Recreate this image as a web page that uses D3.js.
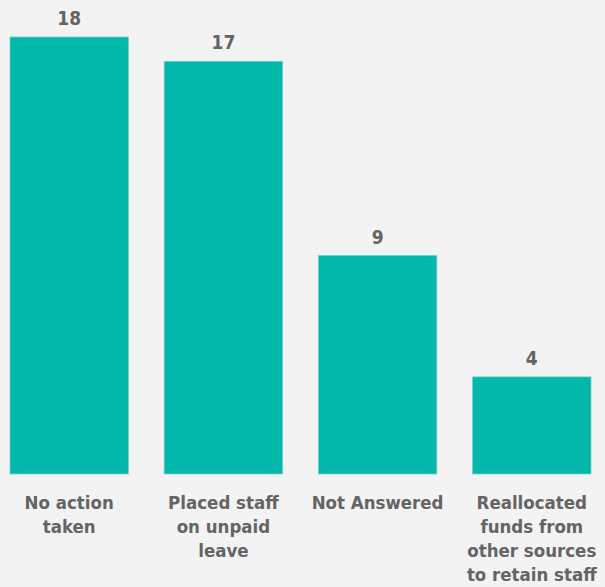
<!DOCTYPE html>
<html>
<head>
<meta charset="utf-8">
<script src="https://cdn.jsdelivr.net/npm/d3@7"></script>
<style>
    html, body { margin: 0; padding: 0; background: #f3f3f3; }
    svg { display: block; }
    text { font-family: "DejaVu Sans Condensed", "DejaVu Sans", sans-serif; font-stretch: condensed; font-weight: bold; fill: #646464; }
</style>
</head>
<body>
<div id="chart"></div>
<script>
// Responses by action taken
const categories = ['No action taken', 'Placed staff on unpaid leave', 'Not Answered', 'Reallocated funds from other sources to retain staff'];
const counts = [18, 17, 9, 4];
const tickLines = [
    ['No action', 'taken'],
    ['Placed staff', 'on unpaid', 'leave'],
    ['Not Answered'],
    ['Reallocated', 'funds from', 'other sources', 'to retain staff']
];

const width = 605;
const height = 587;
const margin = { top: 37, right: 14, bottom: 113, left: 10 };

const svg = d3.select('#chart')
    .append('svg')
    .attr('width', width)
    .attr('height', height);

const x = d3.scaleBand()
    .domain(categories)
    .range([margin.left, width - margin.right])
    .paddingInner(0.232)
    .paddingOuter(0);

const y = d3.scaleLinear()
    .domain([0, d3.max(counts)])
    .range([height - margin.bottom, margin.top]);

// Bars
svg.selectAll('.bar')
    .data(categories)
    .enter()
    .append('rect')
    .attr('class', 'bar')
    .attr('x', d => x(d))
    .attr('y', (d, i) => y(counts[i]))
    .attr('width', x.bandwidth())
    .attr('height', (d, i) => y(0) - y(counts[i]))
    .attr('fill', '#01b8aa')
    .attr('stroke', '#6fd3ca')
    .attr('stroke-width', 0.8);

// Value labels
svg.selectAll('.value')
    .data(categories)
    .enter()
    .append('text')
    .attr('class', 'value')
    .attr('x', d => x(d) + x.bandwidth() / 2)
    .attr('y', (d, i) => y(counts[i]) - 12)
    .attr('text-anchor', 'middle')
    .style('font-size', '19px')
    .text((d, i) => counts[i]);

// Category axis
const xAxis = svg.append('g')
    .attr('transform', `translate(0, ${y(0)})`)
    .call(d3.axisBottom(x).tickSize(0).tickPadding(0));

xAxis.select('.domain').remove();

xAxis.selectAll('.tick text')
    .attr('y', 0)
    .attr('dy', null)
    .style('font-size', '18.5px')
    .style('font-family', null)
    .each(function(d) {
        const lines = tickLines[categories.indexOf(d)];
        const t = d3.select(this).text(null);
        lines.forEach((line, k) => {
            t.append('tspan')
                .attr('x', 0)
                .attr('y', 35 + k * 24)
                .text(line);
        });
    });
</script>
</body>
</html>
